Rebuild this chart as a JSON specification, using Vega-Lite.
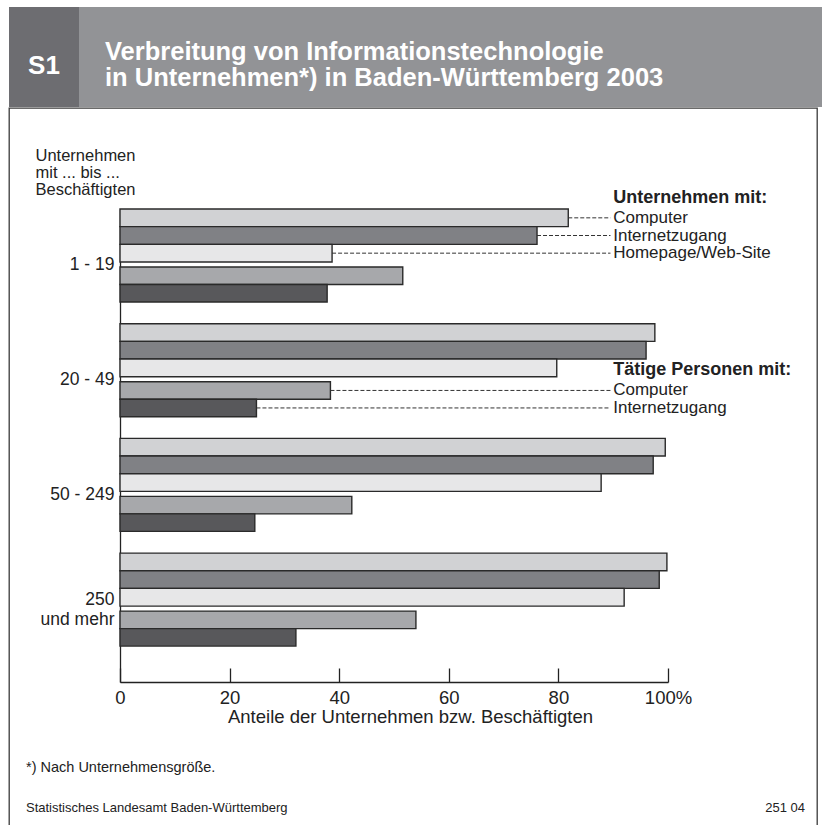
{
  "$schema": "https://vega.github.io/schema/vega-lite/v6.json",
  "padding": {"left": 8, "top": 7, "right": 0, "bottom": 0},
  "background": "white",
  "spacing": 0,
  "config": {
    "view": {"stroke": null},
    "font": "Liberation Sans, Arial, sans-serif",
    "concat": {"spacing": 0}
  },
  "datasets": {
    "bars": [
      {"group": "1 - 19", "series": "Unternehmen mit Computer", "value": 81.8},
      {"group": "1 - 19", "series": "Unternehmen mit Internetzugang", "value": 76.1},
      {"group": "1 - 19", "series": "Unternehmen mit Homepage/Web-Site", "value": 38.7},
      {"group": "1 - 19", "series": "Tätige Personen mit Computer", "value": 51.6},
      {"group": "1 - 19", "series": "Tätige Personen mit Internetzugang", "value": 37.8},
      {"group": "20 - 49", "series": "Unternehmen mit Computer", "value": 97.6},
      {"group": "20 - 49", "series": "Unternehmen mit Internetzugang", "value": 96.0},
      {"group": "20 - 49", "series": "Unternehmen mit Homepage/Web-Site", "value": 79.7},
      {"group": "20 - 49", "series": "Tätige Personen mit Computer", "value": 38.4},
      {"group": "20 - 49", "series": "Tätige Personen mit Internetzugang", "value": 24.9},
      {"group": "50 - 249", "series": "Unternehmen mit Computer", "value": 99.5},
      {"group": "50 - 249", "series": "Unternehmen mit Internetzugang", "value": 97.3},
      {"group": "50 - 249", "series": "Unternehmen mit Homepage/Web-Site", "value": 87.8},
      {"group": "50 - 249", "series": "Tätige Personen mit Computer", "value": 42.3},
      {"group": "50 - 249", "series": "Tätige Personen mit Internetzugang", "value": 24.6},
      {"group": "250 und mehr", "series": "Unternehmen mit Computer", "value": 99.8},
      {"group": "250 und mehr", "series": "Unternehmen mit Internetzugang", "value": 98.4},
      {"group": "250 und mehr", "series": "Unternehmen mit Homepage/Web-Site", "value": 92.0},
      {"group": "250 und mehr", "series": "Tätige Personen mit Computer", "value": 54.0},
      {"group": "250 und mehr", "series": "Tätige Personen mit Internetzugang", "value": 32.1}
    ],
    "legend": [
      {"group": "1 - 19", "series": "Unternehmen mit Computer", "label": "Computer"},
      {"group": "1 - 19", "series": "Unternehmen mit Internetzugang", "label": "Internetzugang"},
      {"group": "1 - 19", "series": "Unternehmen mit Homepage/Web-Site", "label": "Homepage/Web-Site"},
      {"group": "20 - 49", "series": "Tätige Personen mit Computer", "label": "Computer"},
      {"group": "20 - 49", "series": "Tätige Personen mit Internetzugang", "label": "Internetzugang"}
    ],
    "heads": [
      {"group": "1 - 19", "series": "Unternehmen mit Computer", "label": "Unternehmen mit:"},
      {"group": "20 - 49", "series": "Tätige Personen mit Computer", "label": "Tätige Personen mit:"}
    ]
  },
  "vconcat": [
    {
      "spacing": 0,
      "hconcat": [
        {
          "width": 70,
          "height": 100,
          "view": {"fill": "#6d6d71", "stroke": null},
          "data": {"values": [{"t": "S1"}]},
          "mark": {"type": "text", "color": "white", "fontSize": 26, "fontWeight": "bold", "align": "center", "baseline": "middle", "dy": 9},
          "encoding": {"text": {"field": "t", "type": "nominal"}}
        },
        {
          "width": 744,
          "height": 100,
          "view": {"fill": "#929396", "stroke": null},
          "data": {"values": [{"t": "Verbreitung von Informationstechnologie|in Unternehmen*) in Baden-Württemberg 2003"}]},
          "mark": {"type": "text", "color": "white", "fontSize": 25.5, "fontWeight": "bold", "align": "left", "baseline": "middle", "lineBreak": "|", "lineHeight": 25.5, "dy": -5},
          "encoding": {"text": {"field": "t", "type": "nominal"}, "x": {"value": 26}}
        }
      ]
    },
    {
      "width": 808,
      "height": 722,
      "view": {"stroke": "#3a3a3a", "strokeWidth": 1.3, "fill": "white"},
      "resolve": {"scale": {"yOffset": "independent"}},
      "encoding": {
        "y": {
          "field": "group", "type": "nominal", "sort": null,
          "scale": {"domain": ["1 - 19", "20 - 49", "50 - 249", "250 und mehr"], "range": [101, 574], "paddingInner": 0.19, "paddingOuter": 0.157, "align": 0},
          "axis": {
            "orient": "left", "offset": -111, "ticks": false, "domainColor": "#222", "domainWidth": 1.3,
            "labelFontSize": 17.5, "labelColor": "#222", "labelPadding": 6,
            "labelOffset": {"condition": {"test": "datum.value == '250 und mehr'", "value": 0}, "value": 10},
            "labelExpr": "datum.value == '250 und mehr' ? ['250', 'und mehr'] : datum.label",
            "labelLineHeight": 20,
            "title": ["Unternehmen", "mit ... bis ...", "Beschäftigten"],
            "titleAngle": 0, "titleAlign": "left", "titleBaseline": "top", "titleX": -85, "titleY": 39,
            "titleFontSize": 16.5, "titleFontWeight": "normal", "titleColor": "#222", "titleLineHeight": 17
          }
        }
      },
      "layer": [
        {
          "data": {"name": "bars"},
          "transform": [{"filter": "indexof(datum.series, 'Unternehmen') == 0"}],
          "mark": {"type": "bar", "stroke": "#2a2a2a", "strokeWidth": 1.4},
          "encoding": {
            "yOffset": {
              "field": "series", "type": "nominal", "sort": null,
              "scale": {"type": "band", "domain": ["Unternehmen mit Computer", "Unternehmen mit Internetzugang", "Unternehmen mit Homepage/Web-Site"], "range": [0, 53], "paddingInner": 0, "paddingOuter": 0}
            },
            "x": {
              "field": "value", "type": "quantitative",
              "scale": {"domain": [0, 100], "range": [111, 659], "nice": false},
              "axis": {
                "orient": "bottom", "offset": -148, "values": [0, 20, 40, 60, 80, 100], "grid": false,
                "tickSize": -14, "tickColor": "#222", "tickWidth": 1.3, "domainColor": "#222", "domainWidth": 1.3,
                "labelFontSize": 18.5, "labelColor": "#222", "labelPadding": 20, "labelFlush": false,
                "labelExpr": "datum.value == 100 ? '100%' : datum.label",
                "title": "Anteile der Unternehmen bzw. Beschäftigten", "titleFontSize": 18.5, "titleFontWeight": "normal",
                "titleColor": "#222", "titlePadding": 1, "titleX": 401
              }
            },
            "color": {
              "field": "series", "type": "nominal",
              "scale": {"domain": ["Unternehmen mit Computer", "Unternehmen mit Internetzugang", "Unternehmen mit Homepage/Web-Site", "Tätige Personen mit Computer", "Tätige Personen mit Internetzugang"], "range": ["#d1d2d4", "#808185", "#e7e7e8", "#a7a8ab", "#58585b"]},
              "legend": null
            }
          }
        },
        {
          "data": {"name": "bars"},
          "transform": [{"filter": "indexof(datum.series, 'Tätige') == 0"}],
          "mark": {"type": "bar", "stroke": "#2a2a2a", "strokeWidth": 1.4},
          "encoding": {
            "yOffset": {
              "field": "series", "type": "nominal", "sort": null,
              "scale": {"type": "band", "domain": ["Tätige Personen mit Computer", "Tätige Personen mit Internetzugang"], "range": [58, 93], "paddingInner": 0, "paddingOuter": 0}
            },
            "x": {"field": "value", "type": "quantitative"},
            "color": {"field": "series", "type": "nominal", "legend": null}
          }
        },
        {
          "data": {"name": "bars"},
          "transform": [{"filter": "datum.group == '1 - 19' && indexof(datum.series, 'Unternehmen') == 0"}],
          "mark": {"type": "rule", "strokeDash": [4, 2], "color": "#333", "strokeWidth": 1},
          "encoding": {
            "x": {"field": "value", "type": "quantitative"},
            "x2": {"datum": 89.5},
            "yOffset": {
              "field": "series", "type": "nominal", "sort": null,
              "scale": {"type": "band", "domain": ["Unternehmen mit Computer", "Unternehmen mit Internetzugang", "Unternehmen mit Homepage/Web-Site"], "range": [0, 53], "paddingInner": 0, "paddingOuter": 0}
            }
          }
        },
        {
          "data": {"name": "bars"},
          "transform": [{"filter": "datum.group == '20 - 49' && indexof(datum.series, 'Tätige') == 0"}],
          "mark": {"type": "rule", "strokeDash": [4, 2], "color": "#333", "strokeWidth": 1},
          "encoding": {
            "x": {"field": "value", "type": "quantitative"},
            "x2": {"datum": 89.5},
            "yOffset": {
              "field": "series", "type": "nominal", "sort": null,
              "scale": {"type": "band", "domain": ["Tätige Personen mit Computer", "Tätige Personen mit Internetzugang"], "range": [58, 93], "paddingInner": 0, "paddingOuter": 0}
            }
          }
        },
        {
          "data": {"name": "legend"},
          "transform": [{"filter": "indexof(datum.series, 'Unternehmen') == 0"}],
          "mark": {"type": "text", "align": "left", "baseline": "middle", "fontSize": 17, "color": "#222"},
          "encoding": {
            "x": {"datum": 90},
            "yOffset": {
              "field": "series", "type": "nominal", "sort": null,
              "scale": {"type": "band", "domain": ["Unternehmen mit Computer", "Unternehmen mit Internetzugang", "Unternehmen mit Homepage/Web-Site"], "range": [0, 53], "paddingInner": 0, "paddingOuter": 0}
            },
            "text": {"field": "label", "type": "nominal"}
          }
        },
        {
          "data": {"name": "legend"},
          "transform": [{"filter": "indexof(datum.series, 'Tätige') == 0"}],
          "mark": {"type": "text", "align": "left", "baseline": "middle", "fontSize": 17, "color": "#222"},
          "encoding": {
            "x": {"datum": 90},
            "yOffset": {
              "field": "series", "type": "nominal", "sort": null,
              "scale": {"type": "band", "domain": ["Tätige Personen mit Computer", "Tätige Personen mit Internetzugang"], "range": [58, 93], "paddingInner": 0, "paddingOuter": 0}
            },
            "text": {"field": "label", "type": "nominal"}
          }
        },
        {
          "data": {"name": "heads"},
          "transform": [{"filter": "indexof(datum.series, 'Unternehmen') == 0"}],
          "mark": {"type": "text", "align": "left", "baseline": "middle", "fontSize": 18, "fontWeight": "bold", "color": "#222", "dy": -20},
          "encoding": {
            "x": {"datum": 90},
            "yOffset": {
              "field": "series", "type": "nominal", "sort": null,
              "scale": {"type": "band", "domain": ["Unternehmen mit Computer", "Unternehmen mit Internetzugang", "Unternehmen mit Homepage/Web-Site"], "range": [0, 53], "paddingInner": 0, "paddingOuter": 0}
            },
            "text": {"field": "label", "type": "nominal"}
          }
        },
        {
          "data": {"name": "heads"},
          "transform": [{"filter": "indexof(datum.series, 'Tätige') == 0"}],
          "mark": {"type": "text", "align": "left", "baseline": "middle", "fontSize": 18, "fontWeight": "bold", "color": "#222", "dy": -20},
          "encoding": {
            "x": {"datum": 90},
            "yOffset": {
              "field": "series", "type": "nominal", "sort": null,
              "scale": {"type": "band", "domain": ["Tätige Personen mit Computer", "Tätige Personen mit Internetzugang"], "range": [58, 93], "paddingInner": 0, "paddingOuter": 0}
            },
            "text": {"field": "label", "type": "nominal"}
          }
        },
        {
          "data": {"values": [{"t": "*) Nach Unternehmensgröße."}]},
          "mark": {"type": "text", "align": "left", "baseline": "middle", "fontSize": 14.5, "color": "#222"},
          "encoding": {"text": {"field": "t", "type": "nominal"}, "x": {"value": 17}, "y": {"value": 660}}
        },
        {
          "data": {"values": [{"t": "Statistisches Landesamt Baden-Württemberg"}]},
          "mark": {"type": "text", "align": "left", "baseline": "middle", "fontSize": 13, "color": "#222"},
          "encoding": {"text": {"field": "t", "type": "nominal"}, "x": {"value": 17}, "y": {"value": 700}}
        },
        {
          "data": {"values": [{"t": "251 04"}]},
          "mark": {"type": "text", "align": "right", "baseline": "middle", "fontSize": 13, "color": "#222"},
          "encoding": {"text": {"field": "t", "type": "nominal"}, "x": {"value": 796}, "y": {"value": 700}}
        }
      ]
    }
  ]
}
